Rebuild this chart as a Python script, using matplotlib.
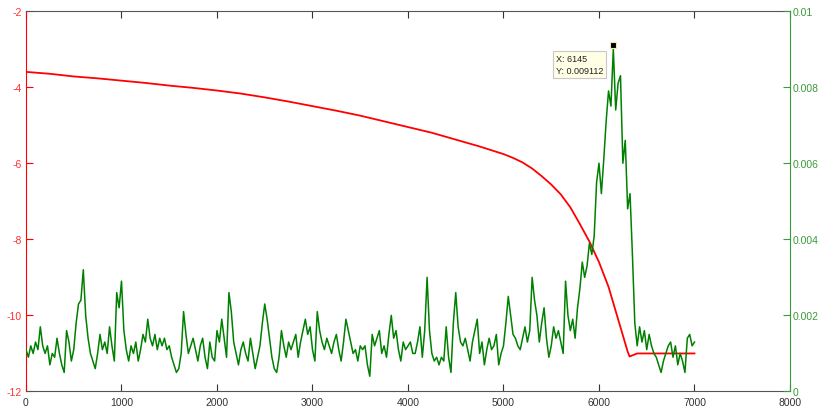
import numpy as np
import matplotlib
matplotlib.use("Agg")
import matplotlib.pyplot as plt
from matplotlib.ticker import FormatStrFormatter

plt.rcParams['font.family'] = ['Liberation Sans', 'DejaVu Sans']

# red series (left axis)
red_x = [0, 250, 500, 750, 1000, 1250, 1500, 1750, 2000, 2250, 2500, 2750,
         3000, 3250, 3500, 3750, 4000, 4250, 4500, 4750, 5000, 5100, 5200,
         5300, 5400, 5500, 5600, 5700, 5800, 5900, 6000, 6100, 6200, 6300,
         6320, 6400, 6600, 6800, 7000]
red_y = [-3.60, -3.65, -3.72, -3.77, -3.83, -3.89, -3.96, -4.02, -4.09, -4.17,
         -4.27, -4.38, -4.50, -4.62, -4.75, -4.90, -5.05, -5.20, -5.38, -5.56,
         -5.76, -5.86, -5.98, -6.14, -6.34, -6.56, -6.82, -7.16, -7.60, -8.06,
         -8.60, -9.25, -10.10, -10.95, -11.08, -11.00, -11.00, -11.00, -11.00]

# green series (right axis), one value every 25 samples
green_step = 25
green_y = [
    0.0011, 0.0009, 0.0012, 0.0010, 0.0013, 0.0011, 0.0017, 0.0012, 0.0010, 0.0012,
    0.0007, 0.0010, 0.0009, 0.0014, 0.0010, 0.0007, 0.0005, 0.0016, 0.0013, 0.0008,
    0.0011, 0.0018, 0.0023, 0.0024, 0.0032, 0.0020, 0.0014, 0.0010, 0.0008, 0.0006,
    0.0010, 0.0015, 0.0011, 0.0013, 0.0010, 0.0017, 0.0012, 0.0008, 0.0026, 0.0022,
    0.0029, 0.0016, 0.0011, 0.0008, 0.0012, 0.0010, 0.0013, 0.0008, 0.0011, 0.0015,
    0.0013, 0.0019, 0.0014, 0.0012, 0.0015, 0.0011, 0.0014, 0.0012, 0.0014, 0.0011,
    0.0012, 0.0009, 0.0007, 0.0005, 0.0006, 0.0010, 0.0021, 0.0015, 0.0010, 0.0012,
    0.0014, 0.0011, 0.0008, 0.0012, 0.0014, 0.0009, 0.0006, 0.0013, 0.0009, 0.0008,
    0.0016, 0.0013, 0.0019, 0.0014, 0.0009, 0.0026, 0.0021, 0.0013, 0.0010, 0.0007,
    0.0011, 0.0013, 0.0010, 0.0008, 0.0014, 0.0010, 0.0006, 0.0009, 0.0012, 0.0018,
    0.0023, 0.0019, 0.0014, 0.0009, 0.0006, 0.0005, 0.0009, 0.0016, 0.0012, 0.0009,
    0.0013, 0.0011, 0.0013, 0.0015, 0.0009, 0.0013, 0.0016, 0.0019, 0.0015, 0.0017,
    0.0011, 0.0008, 0.0021, 0.0016, 0.0013, 0.0011, 0.0014, 0.0012, 0.0010, 0.0013,
    0.0015, 0.0011, 0.0008, 0.0013, 0.0019, 0.0016, 0.0013, 0.0010, 0.0011, 0.0008,
    0.0012, 0.0011, 0.0012, 0.0007, 0.0004, 0.0015, 0.0012, 0.0014, 0.0016, 0.0010,
    0.0012, 0.0009, 0.0015, 0.0020, 0.0014, 0.0016, 0.0011, 0.0008, 0.0013, 0.0011,
    0.0012, 0.0013, 0.0010, 0.0010, 0.0013, 0.0017, 0.0009, 0.0016, 0.0030, 0.0016,
    0.0010, 0.0008, 0.0009, 0.0007, 0.0009, 0.0008, 0.0017, 0.0009, 0.0005, 0.0018,
    0.0026, 0.0017, 0.0013, 0.0012, 0.0014, 0.0011, 0.0008, 0.0013, 0.0016, 0.0019,
    0.0010, 0.0013, 0.0007, 0.0011, 0.0014, 0.0011, 0.0012, 0.0015, 0.0007, 0.0010,
    0.0012, 0.0018, 0.0025, 0.0020, 0.0015, 0.0014, 0.0012, 0.0011, 0.0014, 0.0017,
    0.0013, 0.0016, 0.0030, 0.0024, 0.0020, 0.0013, 0.0018, 0.0022, 0.0014, 0.0009,
    0.0012, 0.0017, 0.0014, 0.0016, 0.0013, 0.0010, 0.0029, 0.0020, 0.0016, 0.0019,
    0.0014, 0.0022, 0.0027, 0.0034, 0.0030, 0.0033, 0.0039, 0.0036, 0.0041, 0.0055,
    0.0060, 0.0052, 0.0061, 0.0071, 0.0079, 0.0075, 0.0090, 0.0074, 0.0081, 0.0083,
    0.0060, 0.0066, 0.0048, 0.0052, 0.0036, 0.0018, 0.0012, 0.0017, 0.0013, 0.0016,
    0.0011, 0.0015, 0.0012, 0.0010, 0.0009, 0.0007, 0.0005, 0.0008, 0.0010, 0.0012,
    0.0013, 0.0009, 0.0012, 0.0007, 0.0010, 0.0008, 0.0005, 0.0014, 0.0015, 0.0012,
    0.0013,
]
green_x = np.arange(len(green_y)) * green_step

# data tip
tip_x = 6145
tip_y = 0.009112

red = '#ff0000'
green = '#008000'
axis_green = '#3a9a3a'
axis_red = '#ff3030'
dark = '#333333'

fig = plt.figure(figsize=(8.2, 4.1), dpi=100)
ax1 = fig.add_axes([0.0317, 0.0427, 0.9317, 0.928])
ax1.plot(red_x, red_y, color=red, linewidth=1.3)
ax1.set_xlim(0, 8000)
ax1.set_ylim(-12, -2)
ax1.set_xticks(np.arange(0, 8001, 1000))
ax1.set_yticks(np.arange(-12, -1, 2))
ax1.yaxis.set_major_formatter(FormatStrFormatter('%g'))
ax1.tick_params(axis='x', direction='in', top=True, length=5, colors=dark,
                labelsize=7.5, pad=4)
ax1.tick_params(axis='y', direction='in', length=5, color=red,
                labelcolor=axis_red, labelsize=7.5, pad=3)
ax1.spines['left'].set_color(red)
ax1.spines['right'].set_visible(False)
ax1.spines['top'].set_color('#555555')
ax1.spines['bottom'].set_color('#555555')

ax2 = ax1.twinx()
ax2.plot(green_x, green_y, color=green, linewidth=1.1)
ax2.set_ylim(0, 0.01)
ax2.set_yticks(np.arange(0, 0.0101, 0.002))
ax2.yaxis.set_major_formatter(FormatStrFormatter('%g'))
ax2.tick_params(axis='y', direction='in', length=5, color=axis_green,
                labelcolor=axis_green, labelsize=7.5, pad=2)
ax2.spines['right'].set_color(axis_green)
ax2.spines['left'].set_visible(False)
ax2.spines['top'].set_visible(False)
ax2.spines['bottom'].set_visible(False)

ax2.plot([tip_x], [tip_y], marker='s', markersize=5, color='black',
         markeredgecolor='#f0e8b0', markeredgewidth=0.8, zorder=5)
ax2.annotate('X: %d\nY: %g' % (tip_x, tip_y), xy=(tip_x, tip_y),
             xytext=(-57, -9), textcoords='offset pixels', ha='left', va='top',
             fontsize=6.5, color='#222222', linespacing=1.4,
             bbox=dict(boxstyle='square,pad=0.35', fc='#ffffe6', ec='#c8c8c8',
                       lw=0.8))

fig.savefig('out.png', dpi=100)
